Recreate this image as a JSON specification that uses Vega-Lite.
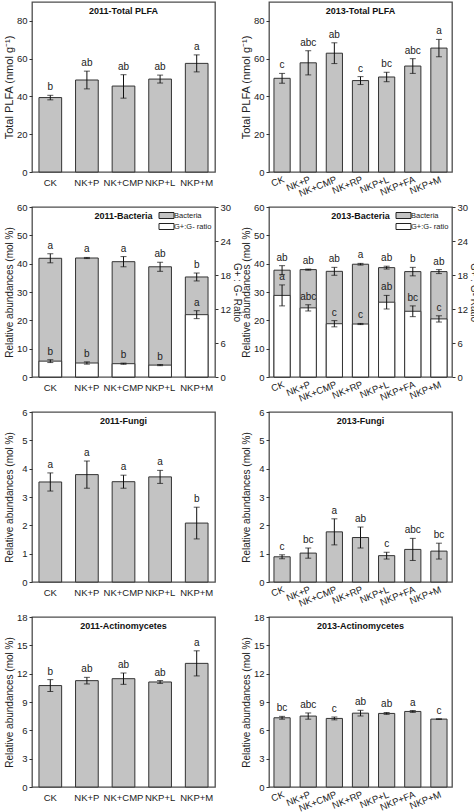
{
  "$schema": "https://vega.github.io/schema/vega-lite/v6.json",
  "padding": {"left": 2, "top": 1, "right": 0, "bottom": 0},
  "background": "white",
  "columns": 2,
  "bounds": "flush",
  "spacing": {"row": 35, "column": 54},
  "resolve": {"scale": {"color": "independent"}, "legend": {"color": "independent"}},
  "config": {
    "font": "Liberation Sans",
    "view": {"stroke": "#4d4d4d", "strokeWidth": 1.3},
    "axis": {"domain": false, "grid": false, "labelFontSize": 9.5, "titleFontSize": 10, "titleFontWeight": "normal", "labelColor": "#222", "titleColor": "#222", "tickColor": "#333", "tickSize": 3},
    "axisX": {"ticks": false},
    "axisLeft": {"minExtent": 17, "maxExtent": 17, "labelPadding": 2, "titlePadding": 1},
    "axisRight": {"minExtent": 15, "maxExtent": 15, "labelPadding": 2, "titlePadding": 1},
    "title": {"fontSize": 9, "fontWeight": "bold", "offset": -14, "anchor": "middle", "frame": "group", "color": "#111"},
    "legend": {"orient": "top-right", "offset": 3, "padding": 0, "rowPadding": 0, "labelFontSize": 7.5, "labelOffset": 2, "symbolType": "M-1.5,-0.6H1.5V0.6H-1.5Z", "symbolSize": 100, "symbolStrokeColor": "#222", "symbolStrokeWidth": 1, "title": null, "labelColor": "#222"}
  },
  "datasets": {
    "t11": [
      {"g": "CK", "v": 39.4, "lo": 38.2, "hi": 40.6, "lt": "b"},
      {"g": "NK+P", "v": 48.7, "lo": 44.0, "hi": 53.4, "lt": "ab"},
      {"g": "NK+CMP", "v": 45.5, "lo": 39.1, "hi": 51.5, "lt": "ab"},
      {"g": "NKP+L", "v": 49.2, "lo": 47.1, "hi": 51.3, "lt": "ab"},
      {"g": "NKP+M", "v": 57.5, "lo": 53.0, "hi": 62.0, "lt": "a"}
    ],
    "t13": [
      {"g": "CK", "v": 49.6, "lo": 47.0, "hi": 52.2, "lt": "c"},
      {"g": "NK+P", "v": 57.8, "lo": 51.4, "hi": 64.2, "lt": "abc"},
      {"g": "NK+CMP", "v": 62.9, "lo": 57.4, "hi": 68.4, "lt": "ab"},
      {"g": "NK+RP", "v": 48.4, "lo": 46.3, "hi": 50.5, "lt": "c"},
      {"g": "NKP+L", "v": 50.3, "lo": 47.8, "hi": 52.8, "lt": "bc"},
      {"g": "NKP+FA", "v": 56.1, "lo": 52.2, "hi": 60.0, "lt": "abc"},
      {"g": "NKP+M", "v": 65.6, "lo": 61.0, "hi": 70.2, "lt": "a"}
    ],
    "b11": [
      {"g": "CK", "v": 41.9, "lo": 40.3, "hi": 43.5, "lt": "a", "r": 2.8, "rlo": 2.55, "rhi": 3.05, "rl": "b"},
      {"g": "NK+P", "v": 42.0, "lo": 41.8, "hi": 42.2, "lt": "a", "r": 2.47, "rlo": 2.27, "rhi": 2.67, "rl": "b"},
      {"g": "NK+CMP", "v": 40.7, "lo": 38.9, "hi": 42.5, "lt": "a", "r": 2.35, "rlo": 2.25, "rhi": 2.45, "rl": "b"},
      {"g": "NKP+L", "v": 38.9, "lo": 37.3, "hi": 40.5, "lt": "ab", "r": 2.1, "rlo": 2.0, "rhi": 2.2, "rl": "b"},
      {"g": "NKP+M", "v": 35.3, "lo": 33.9, "hi": 36.7, "lt": "b", "r": 11.0, "rlo": 10.3, "rhi": 11.7, "rl": "a"}
    ],
    "b13": [
      {"g": "CK", "v": 37.7, "lo": 36.1, "hi": 39.3, "lt": "ab", "r": 14.4, "rlo": 12.55, "rhi": 16.25, "rl": "a"},
      {"g": "NK+P", "v": 37.9, "lo": 37.7, "hi": 38.1, "lt": "ab", "r": 12.2, "rlo": 11.65, "rhi": 12.75, "rl": "abc"},
      {"g": "NK+CMP", "v": 37.3, "lo": 35.9, "hi": 38.7, "lt": "ab", "r": 9.4, "rlo": 8.85, "rhi": 9.95, "rl": "c"},
      {"g": "NK+RP", "v": 39.8, "lo": 39.5, "hi": 40.1, "lt": "a", "r": 9.35, "rlo": 9.25, "rhi": 9.45, "rl": "c"},
      {"g": "NKP+L", "v": 38.6, "lo": 38.1, "hi": 39.1, "lt": "ab", "r": 13.2, "rlo": 12.0, "rhi": 14.4, "rl": "ab"},
      {"g": "NKP+FA", "v": 37.2, "lo": 35.7, "hi": 38.7, "lt": "b", "r": 11.6, "rlo": 10.65, "rhi": 12.55, "rl": "bc"},
      {"g": "NKP+M", "v": 37.2, "lo": 36.5, "hi": 37.9, "lt": "ab", "r": 10.25, "rlo": 9.7, "rhi": 10.8, "rl": "c"}
    ],
    "f11": [
      {"g": "CK", "v": 3.53, "lo": 3.21, "hi": 3.85, "lt": "a"},
      {"g": "NK+P", "v": 3.79, "lo": 3.31, "hi": 4.27, "lt": "a"},
      {"g": "NK+CMP", "v": 3.54, "lo": 3.31, "hi": 3.77, "lt": "a"},
      {"g": "NKP+L", "v": 3.71, "lo": 3.48, "hi": 3.94, "lt": "a"},
      {"g": "NKP+M", "v": 2.08, "lo": 1.52, "hi": 2.64, "lt": "b"}
    ],
    "f13": [
      {"g": "CK", "v": 0.89, "lo": 0.82, "hi": 0.96, "lt": "c"},
      {"g": "NK+P", "v": 1.02, "lo": 0.84, "hi": 1.2, "lt": "bc"},
      {"g": "NK+CMP", "v": 1.77, "lo": 1.31, "hi": 2.23, "lt": "a"},
      {"g": "NK+RP", "v": 1.57, "lo": 1.2, "hi": 1.94, "lt": "ab"},
      {"g": "NKP+L", "v": 0.93, "lo": 0.81, "hi": 1.05, "lt": "c"},
      {"g": "NKP+FA", "v": 1.15, "lo": 0.76, "hi": 1.54, "lt": "abc"},
      {"g": "NKP+M", "v": 1.09, "lo": 0.81, "hi": 1.37, "lt": "bc"}
    ],
    "a11": [
      {"g": "CK", "v": 10.74, "lo": 10.11, "hi": 11.37, "lt": "b"},
      {"g": "NK+P", "v": 11.26, "lo": 10.91, "hi": 11.61, "lt": "ab"},
      {"g": "NK+CMP", "v": 11.47, "lo": 10.87, "hi": 12.07, "lt": "ab"},
      {"g": "NKP+L", "v": 11.12, "lo": 10.97, "hi": 11.27, "lt": "ab"},
      {"g": "NKP+M", "v": 13.09, "lo": 11.76, "hi": 14.42, "lt": "a"}
    ],
    "a13": [
      {"g": "CK", "v": 7.33, "lo": 7.18, "hi": 7.48, "lt": "bc"},
      {"g": "NK+P", "v": 7.51, "lo": 7.18, "hi": 7.84, "lt": "abc"},
      {"g": "NK+CMP", "v": 7.26, "lo": 7.11, "hi": 7.41, "lt": "c"},
      {"g": "NK+RP", "v": 7.82, "lo": 7.52, "hi": 8.12, "lt": "ab"},
      {"g": "NKP+L", "v": 7.79, "lo": 7.69, "hi": 7.89, "lt": "ab"},
      {"g": "NKP+FA", "v": 8.0, "lo": 7.9, "hi": 8.1, "lt": "a"},
      {"g": "NKP+M", "v": 7.19, "lo": 7.16, "hi": 7.22, "lt": "c"}
    ]
  },
  "concat": [
    {
      "title": {"text": "2011-Total PLFA", "offset": -14}, "width": 183, "height": 170,
      "data": {"name": "t11"},
      "encoding": {"x": {"field": "g", "type": "nominal", "sort": null, "title": null, "scale": {"paddingInner": 0.38, "paddingOuter": 0.19}, "axis": {"labelAngle": 0, "labelPadding": 5}}},
      "layer": [
        {"mark": {"type": "bar", "fill": "#c3c3c3", "stroke": "#333", "strokeWidth": 1}, "encoding": {"y": {"field": "v", "type": "quantitative", "title": "Total PLFA (nmol g⁻¹)", "scale": {"domain": [0, 90], "nice": false}, "axis": {"values": [0, 20, 40, 60, 80], "titleFontSize": 11}}}},
        {"mark": {"type": "rule", "color": "#111", "strokeWidth": 1}, "encoding": {"y": {"field": "lo", "type": "quantitative", "title": "Total PLFA (nmol g⁻¹)", "axis": {"values": [0, 20, 40, 60, 80], "titleFontSize": 11}}, "y2": {"field": "hi"}}},
        {"mark": {"type": "tick", "color": "#111", "size": 6, "thickness": 1}, "encoding": {"y": {"field": "lo", "type": "quantitative", "title": "Total PLFA (nmol g⁻¹)", "axis": {"values": [0, 20, 40, 60, 80], "titleFontSize": 11}}}},
        {"mark": {"type": "tick", "color": "#111", "size": 6, "thickness": 1}, "encoding": {"y": {"field": "hi", "type": "quantitative", "title": "Total PLFA (nmol g⁻¹)", "axis": {"values": [0, 20, 40, 60, 80], "titleFontSize": 11}}}},
        {"mark": {"type": "text", "baseline": "bottom", "dy": -3, "fontSize": 10, "color": "#222"}, "encoding": {"y": {"field": "hi", "type": "quantitative", "title": "Total PLFA (nmol g⁻¹)", "axis": {"values": [0, 20, 40, 60, 80], "titleFontSize": 11}}, "text": {"field": "lt"}}}
      ]
    },
    {
      "title": {"text": "2013-Total PLFA", "offset": -14}, "width": 183, "height": 170,
      "data": {"name": "t13"},
      "encoding": {"x": {"field": "g", "type": "nominal", "sort": null, "title": null, "scale": {"paddingInner": 0.38, "paddingOuter": 0.19}, "axis": {"labelAngle": -22, "labelAlign": "right", "labelBaseline": "top", "labelDx": 6, "labelPadding": 2}}},
      "layer": [
        {"mark": {"type": "bar", "fill": "#c3c3c3", "stroke": "#333", "strokeWidth": 1}, "encoding": {"y": {"field": "v", "type": "quantitative", "title": "Total PLFA (nmol g⁻¹)", "scale": {"domain": [0, 90], "nice": false}, "axis": {"values": [0, 20, 40, 60, 80], "titleFontSize": 11}}}},
        {"mark": {"type": "rule", "color": "#111", "strokeWidth": 1}, "encoding": {"y": {"field": "lo", "type": "quantitative", "title": "Total PLFA (nmol g⁻¹)", "axis": {"values": [0, 20, 40, 60, 80], "titleFontSize": 11}}, "y2": {"field": "hi"}}},
        {"mark": {"type": "tick", "color": "#111", "size": 6, "thickness": 1}, "encoding": {"y": {"field": "lo", "type": "quantitative", "title": "Total PLFA (nmol g⁻¹)", "axis": {"values": [0, 20, 40, 60, 80], "titleFontSize": 11}}}},
        {"mark": {"type": "tick", "color": "#111", "size": 6, "thickness": 1}, "encoding": {"y": {"field": "hi", "type": "quantitative", "title": "Total PLFA (nmol g⁻¹)", "axis": {"values": [0, 20, 40, 60, 80], "titleFontSize": 11}}}},
        {"mark": {"type": "text", "baseline": "bottom", "dy": -3, "fontSize": 10, "color": "#222"}, "encoding": {"y": {"field": "hi", "type": "quantitative", "title": "Total PLFA (nmol g⁻¹)", "axis": {"values": [0, 20, 40, 60, 80], "titleFontSize": 11}}, "text": {"field": "lt"}}}
      ]
    },
    {
      "title": {"text": "2011-Bacteria", "offset": -19}, "width": 183, "height": 170,
      "data": {"name": "b11"},
      "encoding": {"x": {"field": "g", "type": "nominal", "sort": null, "title": null, "scale": {"paddingInner": 0.38, "paddingOuter": 0.19}, "axis": {"labelAngle": 0, "labelPadding": 5}}},
      "layer": [
        {"layer": [
          {"mark": {"type": "bar", "stroke": "#333", "strokeWidth": 1}, "encoding": {"y": {"field": "v", "type": "quantitative", "title": "Relative abundances (mol %)", "scale": {"domain": [0, 60], "nice": false}, "axis": {"values": [0, 10, 20, 30, 40, 50, 60]}}, "color": {"datum": "Bacteria", "type": "nominal", "scale": {"domain": ["Bacteria", "G+:G- ratio"], "range": ["#c3c3c3", "#ffffff"]}}}},
          {"mark": {"type": "rule", "color": "#111", "strokeWidth": 1}, "encoding": {"y": {"field": "lo", "type": "quantitative", "title": "Relative abundances (mol %)", "axis": {"values": [0, 10, 20, 30, 40, 50, 60]}}, "y2": {"field": "hi"}}},
          {"mark": {"type": "tick", "color": "#111", "size": 6, "thickness": 1}, "encoding": {"y": {"field": "lo", "type": "quantitative", "title": "Relative abundances (mol %)", "axis": {"values": [0, 10, 20, 30, 40, 50, 60]}}}},
          {"mark": {"type": "tick", "color": "#111", "size": 6, "thickness": 1}, "encoding": {"y": {"field": "hi", "type": "quantitative", "title": "Relative abundances (mol %)", "axis": {"values": [0, 10, 20, 30, 40, 50, 60]}}}},
          {"mark": {"type": "text", "baseline": "bottom", "dy": -3, "fontSize": 10, "color": "#222"}, "encoding": {"y": {"field": "hi", "type": "quantitative", "title": "Relative abundances (mol %)", "axis": {"values": [0, 10, 20, 30, 40, 50, 60]}}, "text": {"field": "lt"}}}
        ]},
        {"layer": [
          {"mark": {"type": "bar", "stroke": "#333", "strokeWidth": 1}, "encoding": {"y": {"field": "r", "type": "quantitative", "title": "G+ : G- Ratio", "scale": {"domain": [0, 30], "nice": false}, "axis": {"orient": "right", "values": [0, 6, 12, 18, 24, 30]}}, "color": {"datum": "G+:G- ratio", "type": "nominal", "scale": {"domain": ["Bacteria", "G+:G- ratio"], "range": ["#c3c3c3", "#ffffff"]}}}},
          {"mark": {"type": "rule", "color": "#111", "strokeWidth": 1}, "encoding": {"y": {"field": "rlo", "type": "quantitative", "title": "G+ : G- Ratio", "axis": {"orient": "right", "values": [0, 6, 12, 18, 24, 30]}}, "y2": {"field": "rhi"}}},
          {"mark": {"type": "tick", "color": "#111", "size": 6, "thickness": 1}, "encoding": {"y": {"field": "rlo", "type": "quantitative", "title": "G+ : G- Ratio", "axis": {"orient": "right", "values": [0, 6, 12, 18, 24, 30]}}}},
          {"mark": {"type": "tick", "color": "#111", "size": 6, "thickness": 1}, "encoding": {"y": {"field": "rhi", "type": "quantitative", "title": "G+ : G- Ratio", "axis": {"orient": "right", "values": [0, 6, 12, 18, 24, 30]}}}},
          {"mark": {"type": "text", "baseline": "bottom", "dy": -3, "fontSize": 10, "color": "#222"}, "encoding": {"y": {"field": "rhi", "type": "quantitative", "title": "G+ : G- Ratio", "axis": {"orient": "right", "values": [0, 6, 12, 18, 24, 30]}}, "text": {"field": "rl"}}}
        ]}
      ],
      "resolve": {"scale": {"y": "independent"}}
    },
    {
      "title": {"text": "2013-Bacteria", "offset": -19}, "width": 183, "height": 170,
      "data": {"name": "b13"},
      "encoding": {"x": {"field": "g", "type": "nominal", "sort": null, "title": null, "scale": {"paddingInner": 0.38, "paddingOuter": 0.19}, "axis": {"labelAngle": -22, "labelAlign": "right", "labelBaseline": "top", "labelDx": 6, "labelPadding": 2}}},
      "layer": [
        {"layer": [
          {"mark": {"type": "bar", "stroke": "#333", "strokeWidth": 1}, "encoding": {"y": {"field": "v", "type": "quantitative", "title": "Relative abundances (mol %)", "scale": {"domain": [0, 60], "nice": false}, "axis": {"values": [0, 10, 20, 30, 40, 50, 60]}}, "color": {"datum": "Bacteria", "type": "nominal", "scale": {"domain": ["Bacteria", "G+:G- ratio"], "range": ["#c3c3c3", "#ffffff"]}}}},
          {"mark": {"type": "rule", "color": "#111", "strokeWidth": 1}, "encoding": {"y": {"field": "lo", "type": "quantitative", "title": "Relative abundances (mol %)", "axis": {"values": [0, 10, 20, 30, 40, 50, 60]}}, "y2": {"field": "hi"}}},
          {"mark": {"type": "tick", "color": "#111", "size": 6, "thickness": 1}, "encoding": {"y": {"field": "lo", "type": "quantitative", "title": "Relative abundances (mol %)", "axis": {"values": [0, 10, 20, 30, 40, 50, 60]}}}},
          {"mark": {"type": "tick", "color": "#111", "size": 6, "thickness": 1}, "encoding": {"y": {"field": "hi", "type": "quantitative", "title": "Relative abundances (mol %)", "axis": {"values": [0, 10, 20, 30, 40, 50, 60]}}}},
          {"mark": {"type": "text", "baseline": "bottom", "dy": -3, "fontSize": 10, "color": "#222"}, "encoding": {"y": {"field": "hi", "type": "quantitative", "title": "Relative abundances (mol %)", "axis": {"values": [0, 10, 20, 30, 40, 50, 60]}}, "text": {"field": "lt"}}}
        ]},
        {"layer": [
          {"mark": {"type": "bar", "stroke": "#333", "strokeWidth": 1}, "encoding": {"y": {"field": "r", "type": "quantitative", "title": "G+ : G- Ratio", "scale": {"domain": [0, 30], "nice": false}, "axis": {"orient": "right", "values": [0, 6, 12, 18, 24, 30]}}, "color": {"datum": "G+:G- ratio", "type": "nominal", "scale": {"domain": ["Bacteria", "G+:G- ratio"], "range": ["#c3c3c3", "#ffffff"]}}}},
          {"mark": {"type": "rule", "color": "#111", "strokeWidth": 1}, "encoding": {"y": {"field": "rlo", "type": "quantitative", "title": "G+ : G- Ratio", "axis": {"orient": "right", "values": [0, 6, 12, 18, 24, 30]}}, "y2": {"field": "rhi"}}},
          {"mark": {"type": "tick", "color": "#111", "size": 6, "thickness": 1}, "encoding": {"y": {"field": "rlo", "type": "quantitative", "title": "G+ : G- Ratio", "axis": {"orient": "right", "values": [0, 6, 12, 18, 24, 30]}}}},
          {"mark": {"type": "tick", "color": "#111", "size": 6, "thickness": 1}, "encoding": {"y": {"field": "rhi", "type": "quantitative", "title": "G+ : G- Ratio", "axis": {"orient": "right", "values": [0, 6, 12, 18, 24, 30]}}}},
          {"mark": {"type": "text", "baseline": "bottom", "dy": -3, "fontSize": 10, "color": "#222"}, "encoding": {"y": {"field": "rhi", "type": "quantitative", "title": "G+ : G- Ratio", "axis": {"orient": "right", "values": [0, 6, 12, 18, 24, 30]}}, "text": {"field": "rl"}}}
        ]}
      ],
      "resolve": {"scale": {"y": "independent"}}
    },
    {
      "title": {"text": "2011-Fungi", "offset": -19}, "width": 183, "height": 170,
      "data": {"name": "f11"},
      "encoding": {"x": {"field": "g", "type": "nominal", "sort": null, "title": null, "scale": {"paddingInner": 0.38, "paddingOuter": 0.19}, "axis": {"labelAngle": 0, "labelPadding": 5}}},
      "layer": [
        {"mark": {"type": "bar", "fill": "#c3c3c3", "stroke": "#333", "strokeWidth": 1}, "encoding": {"y": {"field": "v", "type": "quantitative", "title": "Relative abundances (mol %)", "scale": {"domain": [0, 6], "nice": false}, "axis": {"values": [0, 1, 2, 3, 4, 5, 6]}}}},
        {"mark": {"type": "rule", "color": "#111", "strokeWidth": 1}, "encoding": {"y": {"field": "lo", "type": "quantitative", "title": "Relative abundances (mol %)", "axis": {"values": [0, 1, 2, 3, 4, 5, 6]}}, "y2": {"field": "hi"}}},
        {"mark": {"type": "tick", "color": "#111", "size": 6, "thickness": 1}, "encoding": {"y": {"field": "lo", "type": "quantitative", "title": "Relative abundances (mol %)", "axis": {"values": [0, 1, 2, 3, 4, 5, 6]}}}},
        {"mark": {"type": "tick", "color": "#111", "size": 6, "thickness": 1}, "encoding": {"y": {"field": "hi", "type": "quantitative", "title": "Relative abundances (mol %)", "axis": {"values": [0, 1, 2, 3, 4, 5, 6]}}}},
        {"mark": {"type": "text", "baseline": "bottom", "dy": -3, "fontSize": 10, "color": "#222"}, "encoding": {"y": {"field": "hi", "type": "quantitative", "title": "Relative abundances (mol %)", "axis": {"values": [0, 1, 2, 3, 4, 5, 6]}}, "text": {"field": "lt"}}}
      ]
    },
    {
      "title": {"text": "2013-Fungi", "offset": -19}, "width": 183, "height": 170,
      "data": {"name": "f13"},
      "encoding": {"x": {"field": "g", "type": "nominal", "sort": null, "title": null, "scale": {"paddingInner": 0.38, "paddingOuter": 0.19}, "axis": {"labelAngle": -22, "labelAlign": "right", "labelBaseline": "top", "labelDx": 6, "labelPadding": 2}}},
      "layer": [
        {"mark": {"type": "bar", "fill": "#c3c3c3", "stroke": "#333", "strokeWidth": 1}, "encoding": {"y": {"field": "v", "type": "quantitative", "title": "Relative abundances (mol %)", "scale": {"domain": [0, 6], "nice": false}, "axis": {"values": [0, 1, 2, 3, 4, 5, 6]}}}},
        {"mark": {"type": "rule", "color": "#111", "strokeWidth": 1}, "encoding": {"y": {"field": "lo", "type": "quantitative", "title": "Relative abundances (mol %)", "axis": {"values": [0, 1, 2, 3, 4, 5, 6]}}, "y2": {"field": "hi"}}},
        {"mark": {"type": "tick", "color": "#111", "size": 6, "thickness": 1}, "encoding": {"y": {"field": "lo", "type": "quantitative", "title": "Relative abundances (mol %)", "axis": {"values": [0, 1, 2, 3, 4, 5, 6]}}}},
        {"mark": {"type": "tick", "color": "#111", "size": 6, "thickness": 1}, "encoding": {"y": {"field": "hi", "type": "quantitative", "title": "Relative abundances (mol %)", "axis": {"values": [0, 1, 2, 3, 4, 5, 6]}}}},
        {"mark": {"type": "text", "baseline": "bottom", "dy": -3, "fontSize": 10, "color": "#222"}, "encoding": {"y": {"field": "hi", "type": "quantitative", "title": "Relative abundances (mol %)", "axis": {"values": [0, 1, 2, 3, 4, 5, 6]}}, "text": {"field": "lt"}}}
      ]
    },
    {
      "title": {"text": "2011-Actinomycetes", "offset": -19}, "width": 183, "height": 170,
      "data": {"name": "a11"},
      "encoding": {"x": {"field": "g", "type": "nominal", "sort": null, "title": null, "scale": {"paddingInner": 0.38, "paddingOuter": 0.19}, "axis": {"labelAngle": 0, "labelPadding": 5}}},
      "layer": [
        {"mark": {"type": "bar", "fill": "#c3c3c3", "stroke": "#333", "strokeWidth": 1}, "encoding": {"y": {"field": "v", "type": "quantitative", "title": "Relative abundances (mol %)", "scale": {"domain": [0, 18], "nice": false}, "axis": {"values": [0, 3, 6, 9, 12, 15, 18]}}}},
        {"mark": {"type": "rule", "color": "#111", "strokeWidth": 1}, "encoding": {"y": {"field": "lo", "type": "quantitative", "title": "Relative abundances (mol %)", "axis": {"values": [0, 3, 6, 9, 12, 15, 18]}}, "y2": {"field": "hi"}}},
        {"mark": {"type": "tick", "color": "#111", "size": 6, "thickness": 1}, "encoding": {"y": {"field": "lo", "type": "quantitative", "title": "Relative abundances (mol %)", "axis": {"values": [0, 3, 6, 9, 12, 15, 18]}}}},
        {"mark": {"type": "tick", "color": "#111", "size": 6, "thickness": 1}, "encoding": {"y": {"field": "hi", "type": "quantitative", "title": "Relative abundances (mol %)", "axis": {"values": [0, 3, 6, 9, 12, 15, 18]}}}},
        {"mark": {"type": "text", "baseline": "bottom", "dy": -3, "fontSize": 10, "color": "#222"}, "encoding": {"y": {"field": "hi", "type": "quantitative", "title": "Relative abundances (mol %)", "axis": {"values": [0, 3, 6, 9, 12, 15, 18]}}, "text": {"field": "lt"}}}
      ]
    },
    {
      "title": {"text": "2013-Actinomycetes", "offset": -19}, "width": 183, "height": 170,
      "data": {"name": "a13"},
      "encoding": {"x": {"field": "g", "type": "nominal", "sort": null, "title": null, "scale": {"paddingInner": 0.38, "paddingOuter": 0.19}, "axis": {"labelAngle": -22, "labelAlign": "right", "labelBaseline": "top", "labelDx": 6, "labelPadding": 2}}},
      "layer": [
        {"mark": {"type": "bar", "fill": "#c3c3c3", "stroke": "#333", "strokeWidth": 1}, "encoding": {"y": {"field": "v", "type": "quantitative", "title": "Relative abundances (mol %)", "scale": {"domain": [0, 18], "nice": false}, "axis": {"values": [0, 3, 6, 9, 12, 15, 18]}}}},
        {"mark": {"type": "rule", "color": "#111", "strokeWidth": 1}, "encoding": {"y": {"field": "lo", "type": "quantitative", "title": "Relative abundances (mol %)", "axis": {"values": [0, 3, 6, 9, 12, 15, 18]}}, "y2": {"field": "hi"}}},
        {"mark": {"type": "tick", "color": "#111", "size": 6, "thickness": 1}, "encoding": {"y": {"field": "lo", "type": "quantitative", "title": "Relative abundances (mol %)", "axis": {"values": [0, 3, 6, 9, 12, 15, 18]}}}},
        {"mark": {"type": "tick", "color": "#111", "size": 6, "thickness": 1}, "encoding": {"y": {"field": "hi", "type": "quantitative", "title": "Relative abundances (mol %)", "axis": {"values": [0, 3, 6, 9, 12, 15, 18]}}}},
        {"mark": {"type": "text", "baseline": "bottom", "dy": -3, "fontSize": 10, "color": "#222"}, "encoding": {"y": {"field": "hi", "type": "quantitative", "title": "Relative abundances (mol %)", "axis": {"values": [0, 3, 6, 9, 12, 15, 18]}}, "text": {"field": "lt"}}}
      ]
    }
  ]
}
